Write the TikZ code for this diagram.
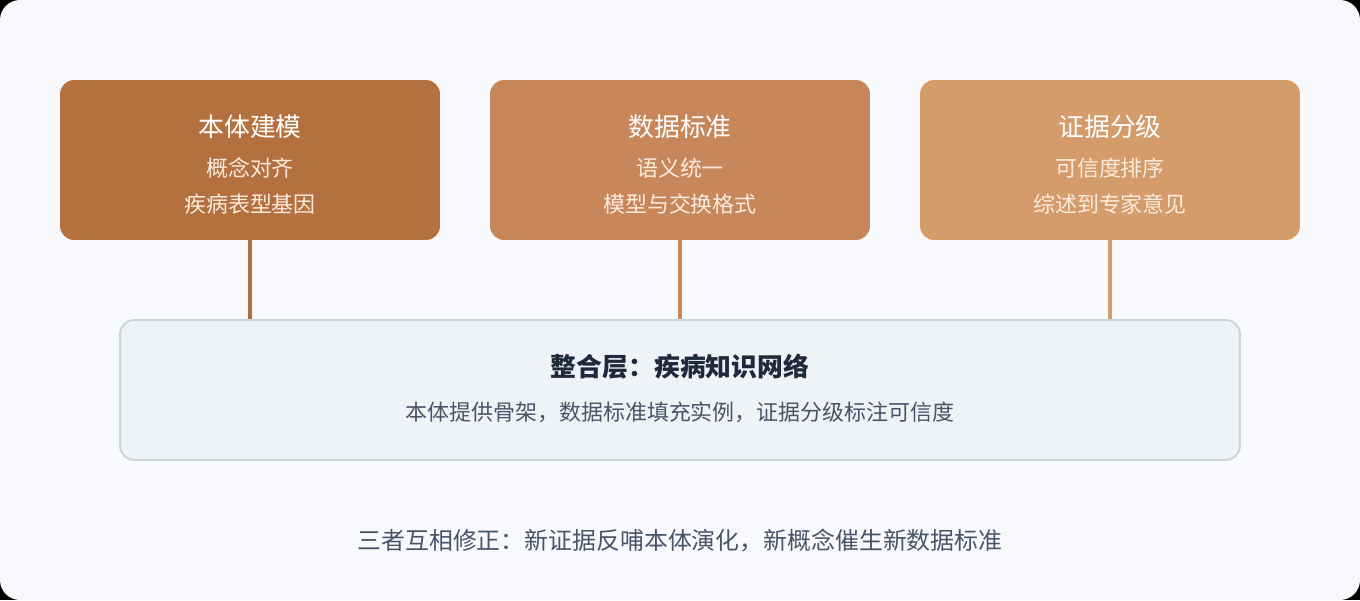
\documentclass[tikz,border=0pt]{standalone}
\usepackage{fontspec}
\setmainfont{Noto Sans CJK SC}
\usetikzlibrary{positioning,calc}

\definecolor{bgpage}{HTML}{F8F9FC}
\definecolor{ontcol}{HTML}{B4713F}
\definecolor{datcol}{HTML}{C7875B}
\definecolor{evicol}{HTML}{D49B6B}
\definecolor{netfill}{HTML}{EEF3F7}
\definecolor{netline}{HTML}{C8D4E0}
\definecolor{subtext}{HTML}{FBEBDD}
\definecolor{darktext}{HTML}{1E293B}
\definecolor{greytext}{HTML}{475569}

\begin{document}
\begin{tikzpicture}[x=0.02cm,y=-0.02cm]
  \tikzset{
  pillar/.style = {rectangle, rounded corners=0.28cm, minimum width=7.6cm,
    minimum height=3.2cm, inner sep=0pt},% the three upper boxes
  pillar_t/.style = {white, font=\fontsize{14.7}{17}\selectfont},% box title
  pillar_s/.style = {subtext, font=\fontsize{12.5}{15}\selectfont},% box lines
  netbox/.style = {rectangle, rounded corners=0.28cm, fill=netfill,
    draw=netline, line width=1.1pt, minimum width=22.4cm,
    minimum height=2.8cm, inner sep=0pt},% integration layer
  link/.style = {line width=2.3pt}
}

% page
\fill[black] (0,0) rectangle (1360,600);
\fill[bgpage, rounded corners=0.4cm] (0,0) rectangle (1360,600);

% upper boxes
\node [pillar, fill=ontcol] (ont) at (250,160) {};
\node [pillar, fill=datcol] (dat) at (680,160) {};
\node [pillar, fill=evicol] (evi) at (1110,160) {};

\node [pillar_t] (ont_t) at (250,127) {本体建模};
\node [pillar_s] (ont_a) at (250,168) {概念对齐};
\node [pillar_s] (ont_b) at (250,204) {疾病表型基因};

\node [pillar_t] (dat_t) at (680,127) {数据标准};
\node [pillar_s] (dat_a) at (680,168) {语义统一};
\node [pillar_s] (dat_b) at (680,204) {模型与交换格式};

\node [pillar_t] (evi_t) at (1110,127) {证据分级};
\node [pillar_s] (evi_a) at (1110,168) {可信度排序};
\node [pillar_s] (evi_b) at (1110,204) {综述到专家意见};

% integration layer
\node [netbox] (net) at (680,390) {};
\node [darktext, font=\fontsize{14.7}{17}\selectfont\bfseries] (net_t)
  at (680,367) {整合层：疾病知识网络};
\node [greytext, font=\fontsize{12.5}{15}\selectfont] (net_s)
  at (680,412) {本体提供骨架，数据标准填充实例，证据分级标注可信度};

% links
\draw [link, ontcol] (ont.south) -- (ont.south |- net.north);
\draw [link, datcol] (dat.south) -- (dat.south |- net.north);
\draw [link, evicol] (evi.south) -- (evi.south |- net.north);

% footer
\node [greytext, font=\fontsize{13.6}{16}\selectfont] (foot)
  at (680,541) {三者互相修正：新证据反哺本体演化，新概念催生新数据标准};
\end{tikzpicture}
\end{document}
